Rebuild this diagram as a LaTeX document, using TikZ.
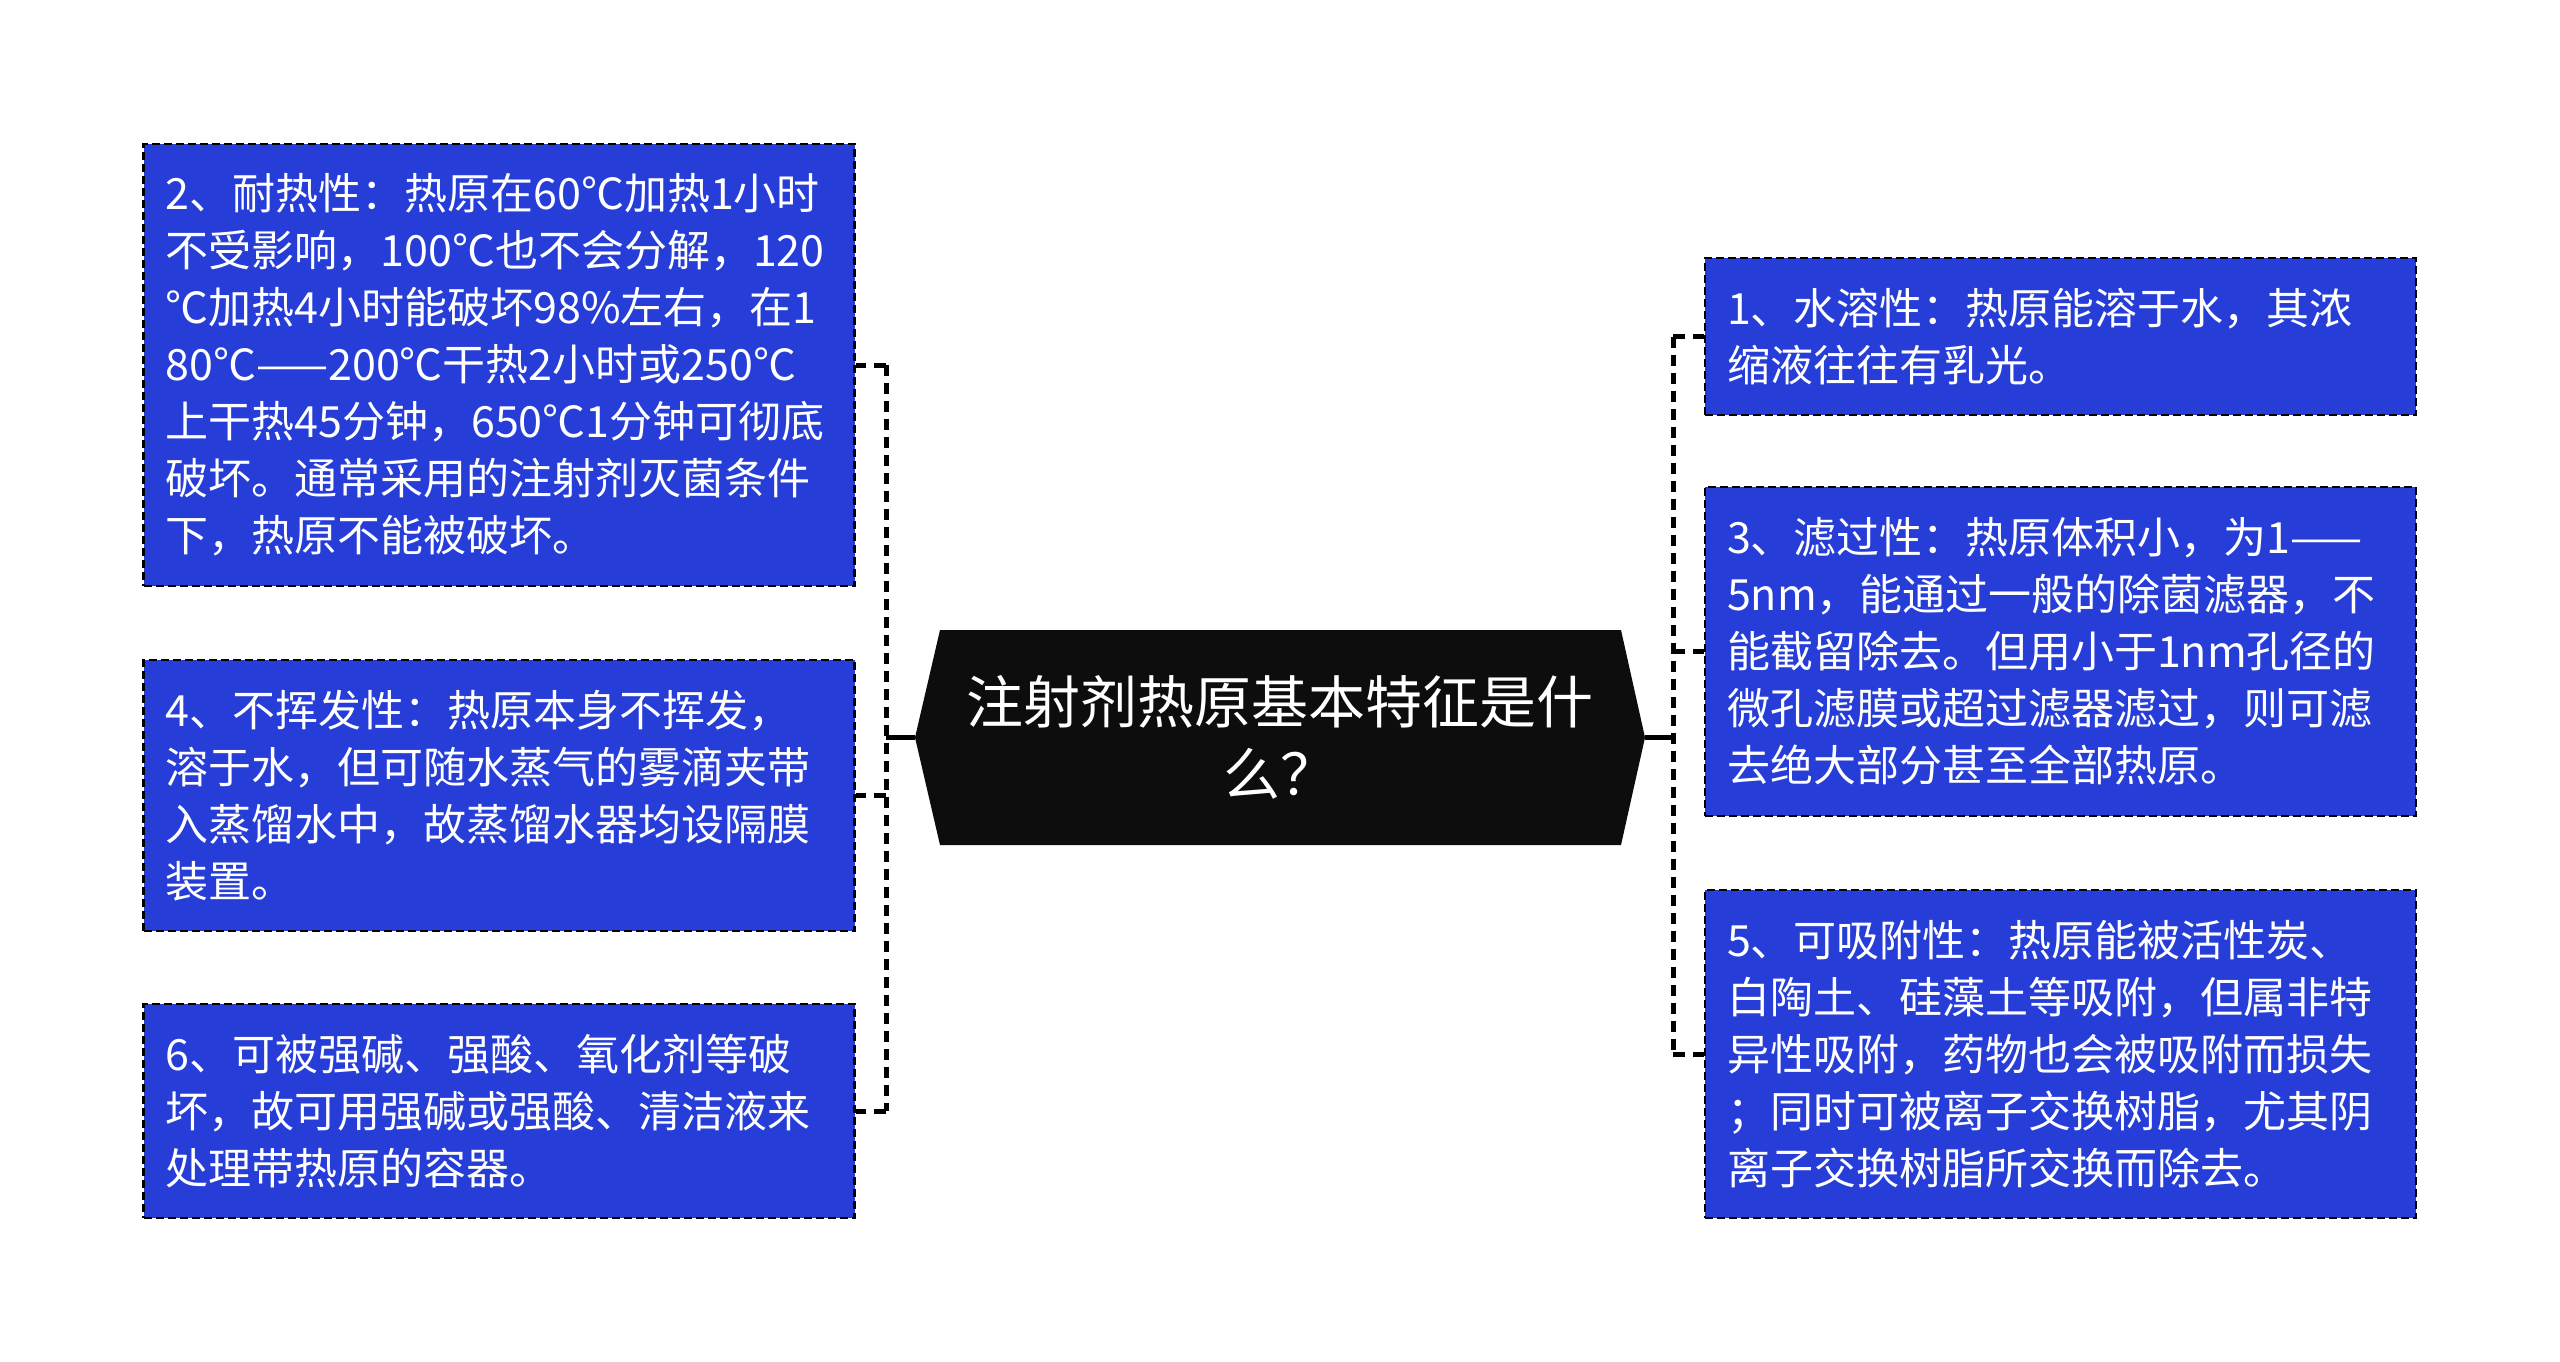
\documentclass[tikz,border=0pt]{standalone}
\usepackage{fontspec}
\setmainfont{Noto Sans CJK SC}
\definecolor{cardblue}{RGB}{38,61,216}
\definecolor{hexblack}{RGB}{13,13,13}
\tikzset{
  card/.style={rectangle, draw=black, line width=2.5pt, dash pattern=on 8pt off 4pt,
    fill=cardblue, text=white, inner xsep=22pt, inner ysep=0pt, text width=667pt,
    align=left, font=\fontsize{43}{57}\selectfont},
  trunk/.style={line width=5pt, dash pattern=on 11pt off 7pt},
  stub/.style={line width=5pt, dash pattern=on 12pt off 8pt},
  stem/.style={line width=4.5pt},
  titletext/.style={text=white, align=center, font=\fontsize{57}{72}\selectfont}
}
\begin{document}
\begin{tikzpicture}[x=1pt,y=-1pt]
\useasboundingbox (0,0) rectangle (2560,1361);
\fill[white] (0,0) rectangle (2560,1361);

% central hexagon
\fill[hexblack] (940,630) -- (1621,630) -- (1645,737.5) -- (1621,845) -- (940,845) -- (915,737.5) -- cycle;
\node[titletext] (title) at (1280,737.5) {注射剂热原基本特征是什\\么？};
\coordinate (hexL) at (915,737.5);
\coordinate (hexR) at (1645,737.5);
\coordinate (tL) at (886,737.5);
\coordinate (tR) at (1673,737.5);

% left cards
\node[card, minimum height=442pt] (n2) at (499,365) {2、耐热性：热原在60℃加热1小时\\不受影响，100℃也不会分解，120\\℃加热4小时能破坏98\%左右，在1\\80℃——200℃干热2小时或250℃\\上干热45分钟，650℃1分钟可彻底\\破坏。通常采用的注射剂灭菌条件\\下，热原不能被破坏。};
\node[card, minimum height=271pt] (n4) at (499,795.5) {4、不挥发性：热原本身不挥发，\\溶于水，但可随水蒸气的雾滴夹带\\入蒸馏水中，故蒸馏水器均设隔膜\\装置。};
\node[card, minimum height=214pt] (n6) at (499,1111) {6、可被强碱、强酸、氧化剂等破\\坏，故可用强碱或强酸、清洁液来\\处理带热原的容器。};

% right cards
\node[card, minimum height=157pt] (n1) at (2060.5,336.5) {1、水溶性：热原能溶于水，其浓\\缩液往往有乳光。};
\node[card, minimum height=329pt] (n3) at (2060.5,651.5) {3、滤过性：热原体积小，为1——\\5nm，能通过一般的除菌滤器，不\\能截留除去。但用小于1nm孔径的\\微孔滤膜或超过滤器滤过，则可滤\\去绝大部分甚至全部热原。};
\node[card, minimum height=328pt] (n5) at (2060.5,1054) {5、可吸附性：热原能被活性炭、\\白陶土、硅藻土等吸附，但属非特\\异性吸附，药物也会被吸附而损失\\；同时可被离子交换树脂，尤其阴\\离子交换树脂所交换而除去。};

% connectors left
\draw[stem] (hexL) -- (tL);
\draw[trunk] (tL |- n2.east) -- (tL |- n6.east);
\draw[stub] (tL |- n2.east) -- (n2.east);
\draw[stub] (tL |- n4.east) -- (n4.east);
\draw[stub] (tL |- n6.east) -- (n6.east);

% connectors right
\draw[stem] (hexR) -- (tR);
\draw[trunk] (tR |- n1.west) -- (tR |- n5.west);
\draw[stub] (tR |- n1.west) -- (n1.west);
\draw[stub] (tR |- n3.west) -- (n3.west);
\draw[stub] (tR |- n5.west) -- (n5.west);
\end{tikzpicture}
\end{document}
